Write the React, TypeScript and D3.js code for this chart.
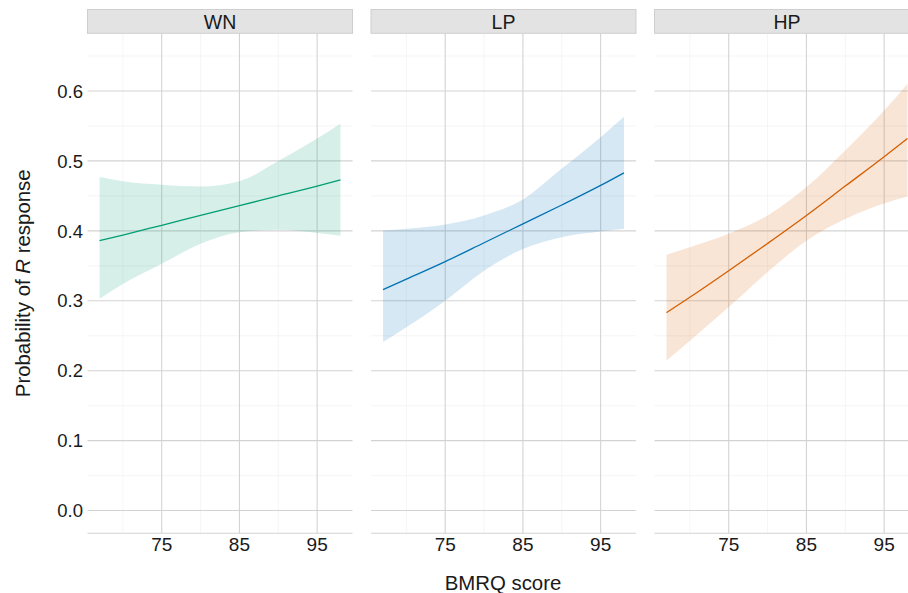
import React from "react";
import * as d3 from "d3";

const panels = ["WN", "LP", "HP"];
const colors = ["#009E73", "#0072B2", "#D55E00"];
const xs = [67, 70, 75, 80, 85, 90, 95, 98];
const fitWN = [0.386, 0.394, 0.408, 0.422, 0.436, 0.45, 0.464, 0.473];
const lowWN = [0.303, 0.324, 0.353, 0.3815, 0.398, 0.4015, 0.397, 0.393];
const upWN = [0.477, 0.471, 0.466, 0.4635, 0.471, 0.4998, 0.532, 0.553];
const fitLP = [0.316, 0.331, 0.356, 0.383, 0.41, 0.437, 0.465, 0.483];
const lowLP = [0.241, 0.262, 0.3, 0.343, 0.374, 0.391, 0.399, 0.403];
const upLP = [0.4006, 0.403, 0.409, 0.422, 0.445, 0.489, 0.534, 0.563];
const fitHP = [0.283, 0.305, 0.343, 0.382, 0.422, 0.464, 0.506, 0.532];
const lowHP = [0.2146, 0.243, 0.291, 0.341, 0.386, 0.417, 0.439, 0.449];
const upHP = [0.366, 0.3767, 0.396, 0.422, 0.4626, 0.515, 0.572, 0.61];
const xTicks = [75, 85, 95];
const xMinor = [70, 80, 90];
const yTicks = [0, 0.1, 0.2, 0.3, 0.4, 0.5, 0.6];
const yMinor = [0.05, 0.15, 0.25, 0.35, 0.45, 0.55, 0.65];

const fits = [fitWN, fitLP, fitHP];
const lows = [lowWN, lowLP, lowHP];
const ups = [upWN, upLP, upHP];

const W = 908;
const H = 593;
const panelLefts = [87.5, 371, 654.5];
const panelW = 265;
const top = 33.3;
const bottom = 533.3;
const stripTop = 9.5;
const font = "Arial, 'Liberation Sans', Helvetica, sans-serif";

export default function App() {
  const y = d3.scaleLinear().domain([-0.0325, 0.6825]).range([bottom, top]);
  return (
    <svg
      width={W}
      height={H}
      style={{ position: "absolute", left: 0, top: 0, display: "block", background: "#fff" }}
      fontFamily={font}
    >
      {panels.map((name, i) => {
        const x0 = panelLefts[i];
        const x = d3.scaleLinear().domain([65.45, 99.55]).range([x0, x0 + panelW]);
        const area = d3
          .area<number>()
          .x((_, j) => x(xs[j]))
          .y0((_, j) => y(lows[i][j]))
          .y1((_, j) => y(ups[i][j]))
          .curve(d3.curveMonotoneX);
        const line = d3
          .line<number>()
          .x((_, j) => x(xs[j]))
          .y((d) => y(d))
          .curve(d3.curveMonotoneX);
        return (
          <g key={name}>
            {yMinor.map((t) => (
              <line key={"ym" + t} x1={x0} x2={x0 + panelW} y1={y(t)} y2={y(t)} stroke="#eeeeee" strokeWidth={0.6} />
            ))}
            {xMinor.map((t) => (
              <line key={"xm" + t} x1={x(t)} x2={x(t)} y1={top} y2={bottom} stroke="#eeeeee" strokeWidth={0.6} />
            ))}
            {yTicks.map((t) => (
              <line key={"yM" + t} x1={x0} x2={x0 + panelW} y1={y(t)} y2={y(t)} stroke="#d3d3d3" strokeWidth={1.1} />
            ))}
            {xTicks.map((t) => (
              <line key={"xM" + t} x1={x(t)} x2={x(t)} y1={top} y2={bottom} stroke="#d3d3d3" strokeWidth={1.1} />
            ))}
            <line x1={x0} x2={x0 + panelW} y1={bottom} y2={bottom} stroke="#d3d3d3" strokeWidth={1.1} />
            <path d={area(xs) || ""} fill={colors[i]} fillOpacity={0.16} />
            <path d={line(fits[i]) || ""} fill="none" stroke={colors[i]} strokeWidth={1.3} />
            <rect x={x0} y={stripTop} width={panelW} height={top - stripTop} fill="#e3e3e3" stroke="#cfcfcf" strokeWidth={1} />
            <text x={x0 + panelW / 2} y={stripTop + 19} textAnchor="middle" fontSize={19.5} fill="#1a1a1a">
              {name}
            </text>
            {xTicks.map((t) => (
              <text key={"xl" + t} x={x(t)} y={551} textAnchor="middle" fontSize={19} fill="#1a1a1a">
                {t}
              </text>
            ))}
          </g>
        );
      })}
      {yTicks.map((t) => (
        <text key={"yl" + t} x={83} y={y(t) + 6.7} textAnchor="end" fontSize={18.5} fill="#1a1a1a">
          {t.toFixed(1)}
        </text>
      ))}
      <text x={503} y={590} textAnchor="middle" fontSize={20.4} fill="#1a1a1a">
        BMRQ score
      </text>
      <text transform={`translate(30, ${(top + bottom) / 2}) rotate(-90)`} textAnchor="middle" fontSize={20.4} fill="#1a1a1a">
        Probability of <tspan fontStyle="italic">R</tspan> response
      </text>
    </svg>
  );
}
